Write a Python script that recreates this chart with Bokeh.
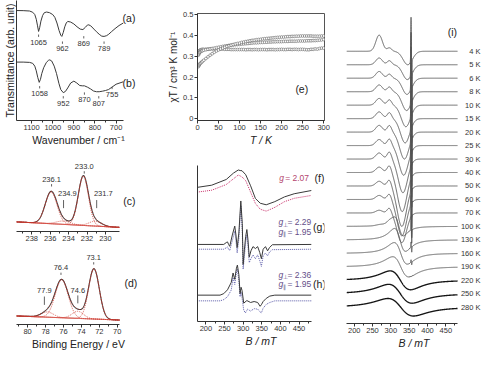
import numpy as np
from bokeh.plotting import figure
from bokeh.layouts import row, column
from bokeh.models import Range1d, FixedTicker
from bokeh.core.properties import value
from bokeh.embed import file_html
from bokeh.resources import INLINE

FONT = "Liberation Sans"
INK = "#3a3a3a"
RED = "#d23c32"
PINK = "#c8306a"
BLUE = "#5a5aa8"
PURP = "#65508a"

# ---------------- data: IR spectra (a), (b) ----------------
ir_wn_a = [1172, 1140, 1110, 1095, 1085, 1078, 1072, 1067, 1062, 1056, 1048, 1040, 1029, 1015, 1000, 990, 980, 970,
           962, 957, 950, 943, 936, 929, 915, 900, 885, 870, 857, 845, 835, 829, 820, 805, 793, 780, 768, 757, 745,
           735, 722, 705, 686, 666]
ir_t_a = [1.173, 1.172, 1.168, 1.155, 1.13, 1.08, 1.01, 0.95, 0.99, 1.06, 1.12, 1.15, 1.157, 1.15, 1.13, 1.10, 1.04,
          0.96, 0.91, 0.897, 0.94, 1.00, 1.04, 1.057, 1.05, 1.03, 1.00, 0.975, 0.97, 0.995, 1.02, 1.02, 1.01, 0.975,
          0.947, 0.92, 0.90, 0.897, 0.905, 0.92, 0.947, 0.98, 1.013, 1.04]
ir_wn_b = [1172, 1140, 1110, 1095, 1085, 1078, 1071, 1064, 1058, 1052, 1043, 1030, 1020, 1014, 1005, 993, 982, 971,
           962, 950, 940, 929, 915, 900, 886, 872, 860, 850, 835, 821, 807, 793, 780, 764, 750, 736, 720, 700, 666]
ir_t_b = [0.623, 0.623, 0.62, 0.61, 0.58, 0.53, 0.46, 0.407, 0.44, 0.50, 0.563, 0.62, 0.642, 0.647, 0.635, 0.58, 0.50,
          0.397, 0.33, 0.297, 0.31, 0.347, 0.40, 0.42, 0.40, 0.373, 0.37, 0.37, 0.355, 0.337, 0.315, 0.307, 0.307,
          0.313, 0.32, 0.33, 0.355, 0.387, 0.413]
ir_lab_a = ["1065", "962", "869", "789"]
ir_lab_a_x = [1067, 954, 853, 757]
ir_lab_a_y = [0.837, 0.763, 0.82, 0.763]
ir_lab_b = ["1058", "952", "870", "807", "755"]
ir_lab_b_x = [1062, 950, 850, 782, 719]
ir_lab_b_y = [0.287, 0.18, 0.22, 0.18, 0.28]
ir_ticks = [700, 800, 900, 1000, 1100]

# ---------------- data: XPS (c) and (d) ----------------
c_centers = [235.9, 232.4, 234.55, 231.1]
c_heights = [3.3, 5.1, 0.35, 0.5]
c_fwhm = [1.5, 1.3, 1.8, 1.6]
c_bg_e = [239.65, 228.5]
c_bg_i = [1.0, 0.43]
c_lab = ["236.1", "233.0"]
c_lab_x = [235.85, 232.3]
c_lab_y = [5.43, 6.77]
c_lab2 = ["234.9", "231.7"]
c_lab2_x = [234.13, 230.23]
c_line_x = [234.55, 230.95]
c_ticks = [230, 232, 234, 236, 238]

d_centers = [76.2, 72.6, 77.8, 74.4]
d_heights = [4.0, 5.3, 0.55, 0.75]
d_fwhm = [1.7, 1.4, 1.6, 1.5]
d_bg_e = [81.24, 69.75]
d_bg_i = [0.9, 0.47]
d_lab = ["73.1", "76.4"]
d_lab_x = [72.63, 76.28]
d_lab_y = [7.07, 5.97]
d_lab2 = ["77.9", "74.6"]
d_lab2_x = [78.13, 74.4]
d_ticks = [70, 72, 74, 76, 78, 80]

# ---------------- data: chi T vs T (e) ----------------
T_low = [2, 3, 4, 5, 6, 8, 10, 12, 15]
T_high = list(range(20, 301, 5))
chiA = [0.318, 0.322, 0.325, 0.327, 0.329, 0.331, 0.332, 0.333, 0.333,
        0.334, 0.334, 0.335, 0.335, 0.335, 0.335, 0.335, 0.334, 0.334, 0.333,
        0.333, 0.333, 0.332, 0.332, 0.332, 0.332, 0.332, 0.332, 0.332, 0.331,
        0.332, 0.332, 0.331, 0.332, 0.332, 0.331, 0.332, 0.332, 0.332, 0.331,
        0.332, 0.332, 0.332, 0.331, 0.332, 0.332, 0.333, 0.332, 0.332, 0.333,
        0.333, 0.332, 0.333, 0.333, 0.332, 0.333, 0.333, 0.332, 0.331, 0.331,
        0.333, 0.333, 0.335, 0.334, 0.337, 0.339, 0.339]
chiB = [0.305, 0.310, 0.315, 0.318, 0.320, 0.323, 0.325, 0.327, 0.329,
        0.331, 0.333, 0.335, 0.337, 0.339, 0.341, 0.343, 0.345, 0.347, 0.349,
        0.350, 0.352, 0.353, 0.354, 0.355, 0.356, 0.357, 0.358, 0.359, 0.360,
        0.361, 0.362, 0.363, 0.364, 0.364, 0.365, 0.366, 0.366, 0.367, 0.367,
        0.368, 0.368, 0.369, 0.369, 0.370, 0.370, 0.370, 0.371, 0.371, 0.371,
        0.372, 0.372, 0.372, 0.372, 0.373, 0.373, 0.373, 0.373, 0.374, 0.374,
        0.374, 0.375, 0.375, 0.376, 0.377, 0.378, 0.380]
chiC = [0.250, 0.255, 0.258, 0.262, 0.265, 0.268, 0.272, 0.276, 0.281,
        0.289, 0.297, 0.305, 0.312, 0.319, 0.325, 0.330, 0.335, 0.339, 0.343,
        0.347, 0.350, 0.353, 0.356, 0.359, 0.361, 0.363, 0.366, 0.368, 0.370,
        0.372, 0.374, 0.376, 0.377, 0.379, 0.380, 0.381, 0.383, 0.384, 0.385,
        0.386, 0.387, 0.388, 0.389, 0.390, 0.391, 0.392, 0.392, 0.393, 0.394,
        0.394, 0.395, 0.395, 0.396, 0.396, 0.397, 0.397, 0.397, 0.397, 0.397,
        0.397, 0.396, 0.396, 0.396, 0.396, 0.397, 0.397]
e_xticks = [0, 50, 100, 150, 200, 250, 300]
e_yticks = [0.0, 0.1, 0.2, 0.3, 0.4, 0.5]

# ---------------- data: EPR (f), (g), (h) ----------------
f_B = [176.6, 215.6, 254.7, 274, 287, 292, 297, 307, 320, 333, 346, 362, 385, 411, 437, 483]
f_exp = [14.1, 14.33, 14.93, 15.6, 15.93, 15.87, 15.85, 15.43, 14.27, 12.93, 12.43, 12.27, 12.6, 13.1, 13.43, 13.77]
f_sim = [13.6, 13.8, 14.4, 15.0, 15.4, 15.3, 15.2, 14.8, 13.6, 12.4, 11.8, 11.6, 12.0, 12.6, 12.95, 13.25]
g_B = [176.6, 248, 254.7, 258, 261, 264, 271, 277.5, 280.7, 284, 288.5, 293.8, 297.7, 300, 303.5, 306.8, 310, 313,
       316.4, 321, 326.4, 333, 339, 344.5, 349, 353.7, 360, 365.6, 370.7, 378.5, 483]
g_exp = [8.1, 8.1, 8.3, 8.37, 8.1, 7.9, 9.1, 10.03, 9.1, 7.77, 9.3, 12.67, 10.3, 6.0, 7.6, 8.93, 9.67, 8.6, 6.77,
         7.43, 7.87, 7.67, 7.87, 7.27, 6.6, 7.6, 7.87, 7.43, 7.77, 8.07, 8.1]
g_sim = [7.6, 7.6, 7.75, 7.85, 7.6, 7.45, 8.5, 9.5, 8.5, 7.2, 8.7, 12.2, 9.6, 5.5, 6.9, 8.3, 9.1, 7.9, 6.2, 6.6, 7.0,
         6.6, 7.0, 6.4, 5.8, 6.9, 7.2, 6.9, 7.3, 7.55, 7.6]
h_B = [176.6, 238, 248, 258, 268, 273, 277.5, 282, 284.6, 288.5, 291.8, 294.4, 297, 301.6, 310, 320, 329.5, 339,
       345.6, 349, 353.7, 362, 371.6, 385, 483]
h_exp = [2.77, 2.77, 2.93, 3.33, 4.1, 5.1, 4.43, 5.6, 5.93, 4.93, 2.93, 3.6, 3.27, 1.93, 2.2, 2.0, 2.1, 2.0, 1.6,
         1.77, 2.1, 2.43, 2.67, 2.77, 2.77]
h_sim_B = [176.6, 238, 248, 258, 268, 273, 277.5, 282, 284.6, 288.5, 291.8, 294.4, 297, 301.6, 306, 312, 320, 329.5,
           339, 345.6, 349, 353.7, 362, 371.6, 385, 483]
h_sim = [2.17, 2.17, 2.3, 2.6, 3.3, 4.6, 3.9, 5.2, 5.5, 4.3, 2.6, 3.1, 2.5, 1.2, 0.9, 1.3, 1.1, 1.35, 1.3, 1.0, 0.9,
         1.4, 1.8, 2.0, 2.17, 2.17]
B_ticks = [200, 250, 300, 350, 400, 450]
B_minor = [225, 275, 325, 375, 425, 475]

# ---------------- data: EPR temperature series (i) ----------------
temps = ["4 K", "5 K", "6 K", "8 K", "10 K", "15 K", "20 K", "25 K", "30 K", "40 K", "50 K", "60 K", "70 K",
         "100 K", "130 K", "160 K", "190 K", "220 K", "250 K", "280 K"]
hump1 = [1.2, 0.5, 0.5, 0.5, 0.5, 0.5, 0.5, 0.45, 0.45, 0.4, 0.35, 0.3, 0.2, 0.05, 0, 0, 0, 0, 0, 0]
hump2 = [0.25, 0.3, 0.3, 0.35, 0.4, 0.45, 0.5, 0.5, 0.55, 0.55, 0.5, 0.45, 0.4, 0.1, 0, 0, 0, 0, 0, 0]
dip_depth = [1.0, 1.1, 1.2, 1.4, 1.6, 1.8, 2.0, 2.2, 2.5, 2.9, 3.0, 2.7, 2.2, 0, 0, 0, 0, 0, 0, 0]
dip_field = [346, 345, 344, 343, 341, 339, 337, 335, 333, 331, 330, 330, 330, 330, 330, 330, 330, 330, 330, 330]
deriv_amp = [0, 0, 0, 0, 0, 0, 0, 0, 0, 0, 0, 0, 0, 0.7, 0.85, 0.8, 0.75, 0.7, 0.7, 0.65]
deriv_field = [327] * 13 + [322, 325, 327, 327, 326, 326, 327]
deriv_width = [20] * 13 + [12, 15, 18, 22, 28, 32, 35]
sharp_amp = [3.3, 3.2, 3.1, 3.0, 2.9, 2.8, 2.6, 2.5, 2.4, 2.2, 2.0, 1.8, 1.6, 1.0, 0.4, 0.2, 0, 0, 0, 0]
sharp_field = 356

# ---------------- layout helpers ----------------
SX = 484 / 500
SY = 353 / 369


def sx(v):
    return int(round(v * SX))


def sy(v):
    return int(round(v * SY))


def panel(block, frame, xr, yr, y_axis=True):
    bx0, by0, bx1, by1 = block
    fx0, fy0, fx1, fy1 = frame
    kw = {}
    if not y_axis:
        kw["y_axis_type"] = None
    p = figure(width=sx(bx1) - sx(bx0), height=sy(by1) - sy(by0),
               x_range=Range1d(*xr), y_range=Range1d(*yr),
               output_backend="svg", toolbar_location=None, title=None,
               min_border_left=sx(fx0) - sx(bx0), min_border_right=sx(bx1) - sx(fx1),
               min_border_top=sy(fy0) - sy(by0), min_border_bottom=sy(by1) - sy(fy1), **kw)
    p.outline_line_color = None
    p.grid.visible = False
    p.background_fill_color = "white"
    p.border_fill_color = "white"
    return p


def style_axis(ax, ticks=None, minor=None, label=None, tick_fs="7.5px", label_fs="10.5px"):
    ax.axis_line_color = "#333333"
    ax.major_tick_line_color = "#333333"
    ax.minor_tick_line_color = "#333333"
    ax.major_tick_out = 3
    ax.major_tick_in = 0
    ax.minor_tick_out = 2
    ax.minor_tick_in = 0
    ax.major_label_text_font = FONT
    ax.major_label_text_font_size = tick_fs
    ax.major_label_text_color = "#333333"
    ax.major_label_standoff = 1
    ax.axis_label_text_font = FONT
    ax.axis_label_text_font_size = label_fs
    ax.axis_label_text_font_style = "normal"
    ax.axis_label_text_color = "#222222"
    ax.axis_label_standoff = 1
    if ticks is not None:
        ax.ticker = FixedTicker(ticks=ticks, minor_ticks=minor or [])
    if label is not None:
        ax.axis_label = label


def bare_axis(ax, label=None):
    style_axis(ax, ticks=[], label=label)
    ax.major_tick_out = 0
    ax.minor_tick_out = 0
    ax.major_label_text_font_size = "0px"


def txt(p, x, y, t, fs="7.5px", color="#333333", align="center", style="normal", xo=0, yo=0):
    p.text(x=x, y=y, text=t, text_font=value(FONT), text_font_size=fs, text_color=color,
           text_align=align, text_baseline="middle", text_font_style=style, x_offset=xo, y_offset=yo)


def gauss(x, c, fwhm):
    s = fwhm / 2.3548
    return np.exp(-0.5 * ((x - c) / s) ** 2)


# ---------------- (a),(b) IR ----------------
ir = panel((0, 0, 162, 155), (15, 0, 152, 128), (1171.6, 584.4), (0, 1.28))
style_axis(ir.xaxis[0], ir_ticks, [750, 850, 950, 1050], "Wavenumber / cm\u207b\u00b9")
ir.xaxis[0].bounds = (666, 1172)
bare_axis(ir.yaxis[0], "Transmittance (arb. unit)")
ir.line(ir_wn_a, ir_t_a, line_color=INK, line_width=1)
ir.line(ir_wn_b, ir_t_b, line_color=INK, line_width=1)
txt(ir, ir_lab_a_x, ir_lab_a_y, ir_lab_a)
txt(ir, ir_lab_b_x, ir_lab_b_y, ir_lab_b)
for lx, ly in ((ir_lab_a_x, ir_lab_a_y), (ir_lab_b_x, ir_lab_b_y)):
    ir.segment(x0=lx, y0=[v + 0.055 for v in ly], x1=lx, y1=[v + 0.08 for v in ly], line_color=INK, line_width=0.8)
txt(ir, [639, 639], [1.097, 0.403], ["(a)", "(b)"], fs="10.5px", color="#222222")


# ---------------- (c),(d) XPS ----------------
def xps_panel(block, frame, xr, yr, centers, heights, fwhm, bg_e, bg_i, ticks, minor, label):
    p = panel(block, frame, xr, yr)
    style_axis(p.xaxis[0], ticks, minor, label)
    p.xaxis[0].bounds = (min(bg_e), max(bg_e))
    p.yaxis[0].visible = False
    E = np.linspace(bg_e[0], bg_e[1], 400)
    bg = np.interp(E, bg_e[::-1], bg_i[::-1])
    comps = [h * gauss(E, c, w) for c, h, w in zip(centers, heights, fwhm)]
    total = bg + sum(comps)
    p.line(E, total, line_color=INK, line_width=1.1)
    for comp in comps:
        p.line(E, bg + comp, line_color=RED, line_width=0.8, line_dash="1 1")
    p.line(E, total, line_color=RED, line_width=0.8, line_dash="1 2")
    p.line(E, bg, line_color=RED, line_width=0.8)
    return p


xc = xps_panel((0, 155, 162, 258), (15, 163, 145, 241), (239.66, 226.19), (0, 7.8),
               c_centers, c_heights, c_fwhm, c_bg_e, c_bg_i, c_ticks, [231, 233, 235, 237, 239], None)
txt(xc, c_lab_x, c_lab_y, c_lab)
xc.segment(x0=c_lab_x, y0=[v - 0.5 for v in c_lab_y], x1=c_lab_x, y1=[v - 0.75 for v in c_lab_y],
           line_color=INK, line_width=0.8)
txt(xc, c_lab2_x, [3.93, 3.93], c_lab2)
xc.segment(x0=c_line_x, y0=[3.27, 3.27], x1=c_line_x, y1=[2.43, 2.43], line_color=INK, line_width=0.8)
txt(xc, [227.4], [3.2], ["(c)"], fs="10.5px", color="#222222")

xd = xps_panel((0, 258, 162, 369), (15, 262, 145, 339), (81.24, 67.41), (0, 7.7),
               d_centers, d_heights, d_fwhm, d_bg_e, d_bg_i, d_ticks, [71, 73, 75, 77, 79, 81],
               "Binding Energy / eV")
txt(xd, d_lab_x, d_lab_y, d_lab)
xd.segment(x0=d_lab_x, y0=[v - 0.5 for v in d_lab_y], x1=d_lab_x, y1=[v - 0.74 for v in d_lab_y],
           line_color=INK, line_width=0.8)
txt(xd, d_lab2_x, [3.57, 3.57], d_lab2)
xd.segment(x0=d_lab2_x, y0=[2.95, 3.07], x1=d_lab2_x, y1=[2.07, 2.23], line_color=INK, line_width=0.8)
txt(xd, [68.48], [4.4], ["(d)"], fs="10.5px", color="#222222")

# ---------------- (e) chi T ----------------
pe = panel((162, 0, 345, 165), (203.3, 14, 334.3, 125), (0, 302), (-0.0078, 0.5046))
pe.outline_line_color = "#555555"
style_axis(pe.xaxis[0], e_xticks, None, "T / K")
style_axis(pe.yaxis[0], e_yticks, None, "\u03c7T / cm\u00b3 K mol\u207b\u00b9", label_fs="10px")
pe.xaxis[0].axis_label_text_font_style = "italic"
TT = T_low + T_high
for ser in (chiA, chiB, chiC):
    pe.scatter(TT, ser, marker="circle", size=2.8, line_color="#5a5a5a", fill_color="white", line_width=0.55)
txt(pe, [248], [0.145], ["(e)"], fs="10.5px", color="#222222")

# ---------------- (f),(g),(h) EPR ----------------
pf = panel((162, 165, 345, 369), (170.5, 172, 345, 336), (177.5, 518.4), (0, 16.4))
style_axis(pf.xaxis[0], B_ticks, B_minor, "B / mT")
pf.xaxis[0].bounds = (177.5, 483)
pf.xaxis[0].axis_label_text_font_style = "italic"
bare_axis(pf.yaxis[0])
pf.line(f_B, f_sim, line_color=PINK, line_width=1, line_dash="1 1")
pf.line(f_B, f_exp, line_color=INK, line_width=1)
pf.line(g_B, g_sim, line_color=BLUE, line_width=1, line_dash="1 1")
pf.line(g_B, g_exp, line_color=INK, line_width=1)
pf.line(h_sim_B, h_sim, line_color=BLUE, line_width=1, line_dash="1 1")
pf.line(h_B, h_exp, line_color=INK, line_width=1)


def glabel(p, x, y, sub, val, color):
    p.text(x=[x], y=[y], text=["g"], text_font=value(FONT), text_font_size="8.5px", text_color=color,
           text_align="left", text_baseline="middle", text_font_style="italic")
    xo = 6
    if sub:
        p.text(x=[x], y=[y], text=[sub], text_font=value(FONT), text_font_size="5.5px", text_color=color,
               text_align="left", text_baseline="middle", x_offset=4.5, y_offset=2.5)
        xo = 9
    p.text(x=[x], y=[y], text=["= " + val], text_font=value(FONT), text_font_size="8.5px", text_color=color,
           text_align="left", text_baseline="middle", x_offset=xo)


glabel(pf, 396.7, 15.1, None, "2.07", "#b4456e")
glabel(pf, 394.7, 10.43, "\u22a5", "2.29", PURP)
glabel(pf, 394.7, 9.43, "\u2225", "1.95", PURP)
glabel(pf, 394.7, 4.93, "\u22a5", "2.36", PURP)
glabel(pf, 394.7, 3.93, "\u2225", "1.95", PURP)
txt(pf, [505, 505, 505], [15.1, 9.9, 3.93], ["(f)", "(g)", "(h)"], fs="10.5px", color="#222222")

# ---------------- (i) EPR vs temperature ----------------
pi = panel((345, 0, 500, 369), (357, 2, 497, 338), (178.9, 547.4), (-1.206, 22.62), y_axis=False)
style_axis(pi.xaxis[0], B_ticks, B_minor, "B / mT")
pi.xaxis[0].bounds = (178.9, 482)
pi.xaxis[0].axis_label_text_font_style = "italic"

Bf = np.concatenate([np.arange(178.9, 350, 0.5), np.arange(350, 362, 0.05), np.arange(362, 482.5, 0.5)])


def lder(B, c, w):
    x = (B - c) / (w * np.sqrt(3))
    return -x / (1 + x * x) ** 2 / 0.32476


def gder(B, c, w):
    x = (B - c) / w
    return -x * np.exp(0.5 - 0.5 * x * x)


n = len(temps)
xs, ys, cols, wids = [], [], [], []
for k in range(n):
    off = n - 1 - k
    y = (off + hump1[k] * gauss(Bf, 268, 21) + hump2[k] * gauss(Bf, 296, 14)
         - dip_depth[k] * gauss(Bf, dip_field[k], 30)
         + deriv_amp[k] * lder(Bf, deriv_field[k], deriv_width[k])
         + sharp_amp[k] * gder(Bf, sharp_field, 0.9))
    xs.append(Bf)
    ys.append(y)
    hot = k >= n - 3
    cols.append("#151515" if hot else "#555555")
    wids.append(1.35 if hot else 0.9)
pi.multi_line(xs, ys, line_color=cols, line_width=wids)
txt(pi, [544.7] * n, [n - 1 - k for k in range(n)], temps, fs="7.5px", align="right")
txt(pi, [468], [20.4], ["(i)"], fs="10.5px", color="#222222")

layout = row(column(ir, xc, xd), column(pe, pf), pi)
open("out.html", "w").write(file_html(layout, INLINE))
